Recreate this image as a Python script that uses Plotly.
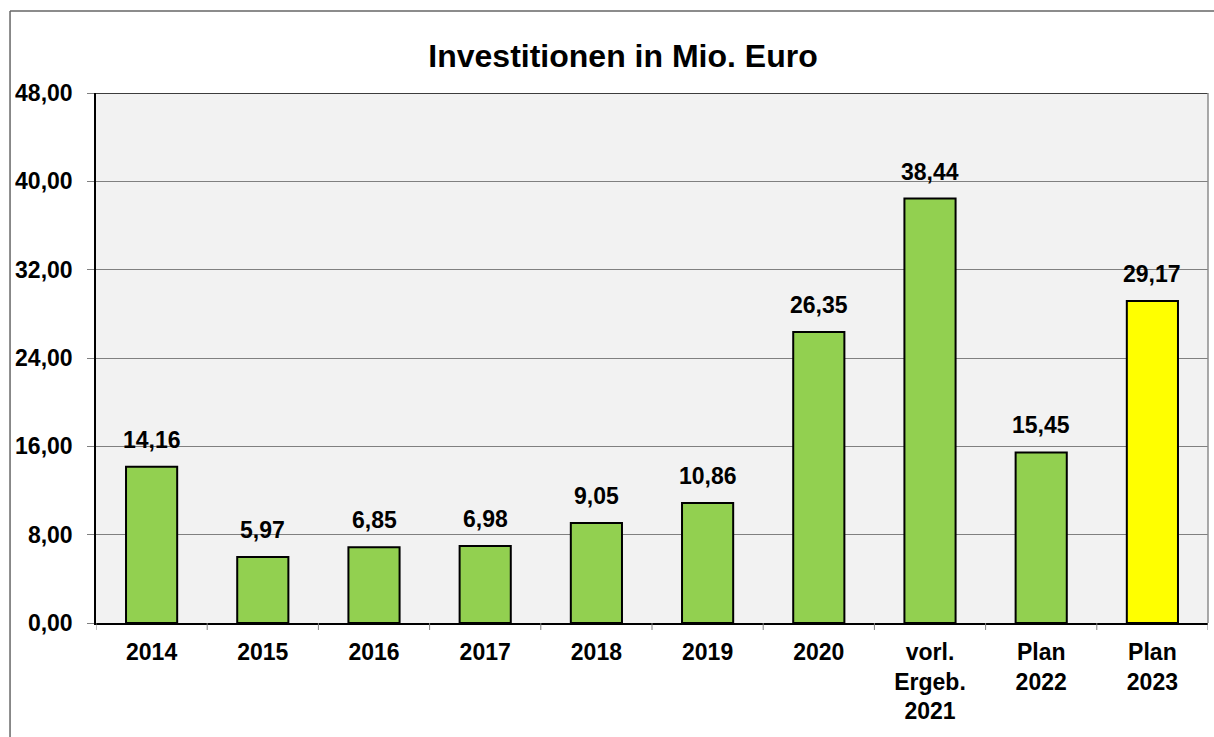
import plotly.graph_objects as go

categories = ["2014", "2015", "2016", "2017", "2018", "2019", "2020",
              "vorl.<br>Ergeb.<br>2021", "Plan<br>2022", "Plan<br>2023"]
values = [14.16, 5.97, 6.85, 6.98, 9.05, 10.86, 26.35, 38.44, 15.45, 29.17]
bar_colors = ["#92d050"] * 9 + ["#ffff00"]
y_ticks = [0, 8, 16, 24, 32, 40, 48]
title_text = "Investitionen in Mio. Euro"

W, H = 1214, 737
L, T = 96, 93
R = W - 1208.5
B = H - 623.5
pw = W - L - R
ph = H - T - B

FONT = "Liberation Sans, Arial, sans-serif"

fig = go.Figure()
fig.add_trace(go.Bar(
    x=list(range(len(categories))), y=values,
    marker=dict(color=bar_colors, line=dict(color="black", width=2)),
    width=0.46, hoverinfo="skip",
))

for i, v in enumerate(values):
    fig.add_annotation(
        x=i, y=v, text=f"{v:.2f}".replace(".", ","),
        showarrow=False, yanchor="bottom", yshift=12,
        font=dict(family=FONT, size=23, color="black", weight="bold"),
    )

# outer chart border (top and left edges visible; the rest lies outside the window)
bx0 = (10 - L) / pw
by1 = (H - B - 11) / ph
fig.add_shape(type="line", xref="paper", yref="paper", x0=bx0, x1=1.3, y0=by1, y1=by1,
              line=dict(color="#666666", width=1.5))
fig.add_shape(type="line", xref="paper", yref="paper", x0=bx0, x1=bx0, y0=-0.4, y1=by1,
              line=dict(color="#666666", width=1.5))
# top border of plot area
fig.add_shape(type="line", xref="paper", yref="y", x0=0, x1=1, y0=48, y1=48,
              line=dict(color="black", width=1.5))
# right border of plot area
fig.add_shape(type="line", xref="paper", yref="paper", x0=1, x1=1, y0=0, y1=1,
              line=dict(color="#8c8c8c", width=1.5))

fig.update_layout(
    width=W, height=H,
    margin=dict(l=L, r=R, t=T, b=B, pad=0),
    paper_bgcolor="white", plot_bgcolor="#f2f2f2",
    separators=",.",
    showlegend=False,
    font=dict(family=FONT, color="black"),
    title=dict(text=title_text, xref="container", yref="container",
               x=623 / W, y=1 - 56 / H, xanchor="center", yanchor="middle",
               font=dict(family=FONT, size=32, color="black", weight="bold")),
)
fig.update_xaxes(
    tickmode="array", tickvals=list(range(len(categories))), ticktext=categories,
    showgrid=False, showline=True, linecolor="black", linewidth=2,
    ticks="", zeroline=False,
    ticklabelstandoff=7,
    tickfont=dict(family=FONT, size=23, color="black", weight="bold"),
    range=[-0.5, len(categories) - 0.5],
)
# category boundary tick marks below the x axis
for k in range(len(categories) + 1):
    fig.add_shape(type="line", xref="x", yref="paper", x0=k - 0.5, x1=k - 0.5,
                  y0=0, y1=-7 / ph, line=dict(color="#808080", width=1))
fig.update_yaxes(
    range=[0, 48], tickvals=y_ticks, tickformat=".2f",
    showgrid=True, gridcolor="#808080", gridwidth=1,
    showline=True, linecolor="black", linewidth=1.5,
    ticks="outside", ticklen=7, tickcolor="#808080", tickwidth=1,
    ticklabelstandoff=10,
    tickfont=dict(family=FONT, size=23, color="black", weight="bold"),
    zeroline=False,
)

fig.write_html(
    "out.html",
    config={"displayModeBar": False},
    post_script="document.documentElement.style.overflow='hidden';"
                "document.body.style.margin='0';document.body.style.overflow='hidden';",
)
